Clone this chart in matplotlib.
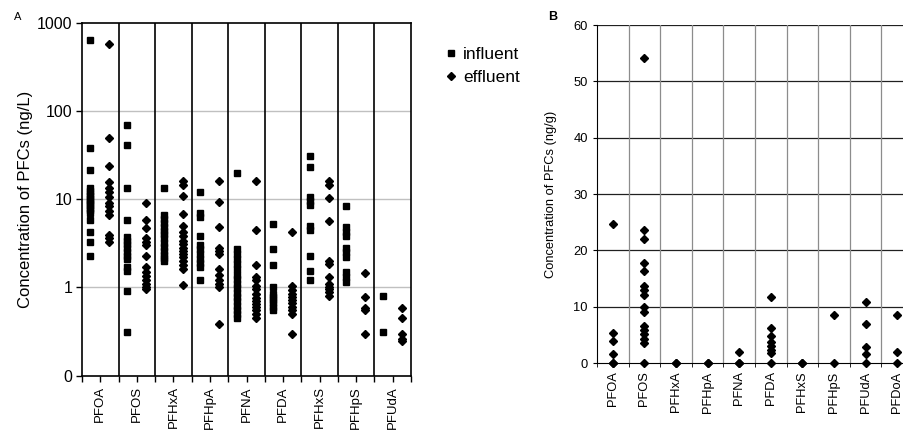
import numpy as np
import matplotlib.pyplot as plt
from matplotlib.ticker import FixedLocator, NullLocator

plt.rcParams['font.family'] = ['Liberation Sans', 'DejaVu Sans']

# panel A: concentrations in wastewater (ng/L), log axis
compounds_a = ["PFOA", "PFOS", "PFHxA", "PFHpA", "PFNA", "PFDA", "PFHxS", "PFHpS", "PFUdA"]
influent = [
    [640, 38, 21.5, 13.4, 12.5, 11.5, 10.8, 10, 9.5, 9, 8.5, 8, 7.5, 7, 5.8, 4.3, 3.3, 2.3],
    [69, 41, 13.4, 5.8, 3.7, 3.4, 3.1, 2.8, 2.5, 2.3, 2.1, 1.7, 1.55, 0.9, 0.31],
    [13.4, 6.6, 6.0, 5.4, 4.9, 4.4, 4.0, 3.6, 3.2, 2.9, 2.6, 2.35, 2.15, 2.0],
    [12.2, 7.0, 6.3, 3.8, 3.0, 2.7, 2.4, 2.1, 1.9, 1.7, 1.2],
    [19.9, 2.7, 2.4, 2.1, 1.85, 1.6, 1.4, 1.25, 1.1, 0.98, 0.87, 0.78, 0.7, 0.62, 0.55, 0.5, 0.45],
    [5.2, 2.7, 1.8, 1.0, 0.85, 0.78, 0.72, 0.66, 0.6, 0.55],
    [31, 23, 10.5, 9.5, 8.6, 5.0, 4.5, 2.3, 1.55, 1.2],
    [8.3, 4.9, 4.3, 3.8, 2.8, 2.5, 2.2, 1.5, 1.3, 1.16],
    [0.80, 0.31],
]
effluent = [
    [580, 49, 24, 15.7, 13.5, 12, 10.5, 9, 8.3, 7.4, 6.6, 3.9, 3.6, 3.3],
    [9.1, 5.8, 4.7, 3.6, 3.3, 3.0, 2.3, 1.7, 1.5, 1.35, 1.2, 1.1, 1.0, 0.95],
    [16, 14.5, 10.9, 6.8, 5.0, 4.2, 3.8, 3.4, 3.1, 2.8, 2.6, 2.4, 2.2, 2.0, 1.8, 1.6, 1.06],
    [16, 9.3, 4.9, 2.8, 2.6, 2.4, 1.6, 1.4, 1.2, 1.1, 1.0, 0.39],
    [16, 4.5, 1.8, 1.3, 1.2, 1.05, 0.95, 0.85, 0.75, 0.7, 0.65, 0.6, 0.55, 0.5, 0.45],
    [4.2, 1.05, 0.93, 0.85, 0.78, 0.72, 0.66, 0.6, 0.55, 0.5, 0.3],
    [16, 14.5, 10.4, 5.7, 2.0, 1.85, 1.3, 1.1, 1.0, 0.95, 0.88, 0.8],
    [1.46, 0.78, 0.58, 0.55, 0.3],
    [0.58, 0.45, 0.30, 0.26, 0.245],
]
ytick_vals_a = [0.1, 1, 10, 100, 1000]
ytick_labels_a = ["0", "1", "10", "100", "1000"]

# panel B: concentrations in sludge (ng/g)
compounds_b = ["PFOA", "PFOS", "PFHxA", "PFHpA", "PFNA", "PFDA", "PFHxS", "PFHpS", "PFUdA", "PFDoA"]
sludge = [
    [24.7, 5.3, 3.9, 1.65, 0, 0],
    [54.2, 23.6, 22.0, 17.7, 16.3, 13.7, 13.0, 12.1, 9.9, 9.1, 6.6, 5.9, 5.1, 4.3, 3.5, 0],
    [0, 0],
    [0, 0],
    [2.0, 0, 0],
    [11.8, 6.3, 4.8, 3.8, 3.1, 2.3, 1.7, 0],
    [0, 0],
    [8.6, 0],
    [10.8, 6.9, 2.9, 1.65, 0],
    [8.6, 2.0, 0],
]

fig = plt.figure(figsize=(9.04, 4.30), dpi=100)

# ---- panel A
ax = fig.add_axes([0.0907, 0.1263, 0.364, 0.821])
for i in range(len(compounds_a)):
    ax.plot(np.full(len(influent[i]), i - 0.27), influent[i], ls='none', marker='s',
            ms=5, color='black', label='influent' if i == 0 else None)
    ax.plot(np.full(len(effluent[i]), i + 0.25), effluent[i], ls='none', marker='D',
            ms=4.5, color='black', label='effluent' if i == 0 else None)
ax.set_yscale('log')
ax.set_ylim(0.1, 1000)
ax.set_xlim(-0.5, len(compounds_a) - 0.5)
ax.yaxis.set_major_locator(FixedLocator(ytick_vals_a))
ax.set_yticklabels(ytick_labels_a, fontsize=11.5)
ax.yaxis.set_minor_locator(NullLocator())
for v in ytick_vals_a[1:-1]:
    ax.axhline(v, color='#c0c0c0', lw=1, zorder=0)
for b in np.arange(0.5, len(compounds_a) - 0.5):
    ax.axvline(b, color='black', lw=1.2, zorder=1)
ax.set_xticks(np.arange(len(compounds_a)))
ax.set_xticklabels(compounds_a, rotation=90, fontsize=9.5)
ax.set_xticks(np.arange(-0.5, len(compounds_a)), minor=True)
ax.tick_params(axis='x', which='both', direction='out', length=4, width=1)
ax.tick_params(axis='y', direction='out', length=4, width=1, pad=3)
for s in ax.spines.values():
    s.set_linewidth(1.2)
ax.set_ylabel("Concentration of PFCs (ng/L)", fontsize=12)
ax.yaxis.set_label_coords(-0.15, 0.5)
fig.text(14 / 904, 1 - 17 / 430, "A", fontsize=8, va='center')
fig.legend(loc='upper left', bbox_to_anchor=(439 / 904, 1 - 40 / 430), frameon=False,
           fontsize=12.5, handlelength=0.6, handletextpad=0.4, labelspacing=0.45,
           borderaxespad=0, markerscale=0.9)

# ---- panel B
bx = fig.add_axes([0.6604, 0.1558, 0.3496, 0.786])
for i in range(len(compounds_b)):
    bx.plot(np.full(len(sludge[i]), i), sludge[i], ls='none', marker='D', ms=4.5,
            color='black', clip_on=False, zorder=3)
bx.set_ylim(0, 60)
bx.set_xlim(-0.5, len(compounds_b) - 0.5)
bx.set_yticks(np.arange(0, 61, 10))
bx.tick_params(axis='y', labelsize=9.3, direction='out', length=3)
for v in range(10, 61, 10):
    bx.axhline(v, color='#202020', lw=0.9, zorder=0)
for b in np.arange(0.5, len(compounds_b) - 0.5):
    bx.axvline(b, color='#8c8c8c', lw=0.9, zorder=0)
bx.set_xticks(np.arange(len(compounds_b)))
bx.set_xticklabels(compounds_b, rotation=90, fontsize=9.3)
bx.set_xticks(np.arange(-0.5, len(compounds_b)), minor=True)
bx.tick_params(axis='x', which='major', length=0, pad=6)
bx.tick_params(axis='x', which='minor', direction='out', length=3)
bx.spines['top'].set_visible(False)
bx.spines['right'].set_visible(False)
bx.set_ylabel("Concentration of PFCs (ng/g)", fontsize=9.3)
bx.yaxis.set_label_coords(-0.127, 0.5)
fig.text(548 / 904, 1 - 17 / 430, "B", fontsize=9, fontweight='bold', va='center')

fig.savefig("out.png", dpi=100)
